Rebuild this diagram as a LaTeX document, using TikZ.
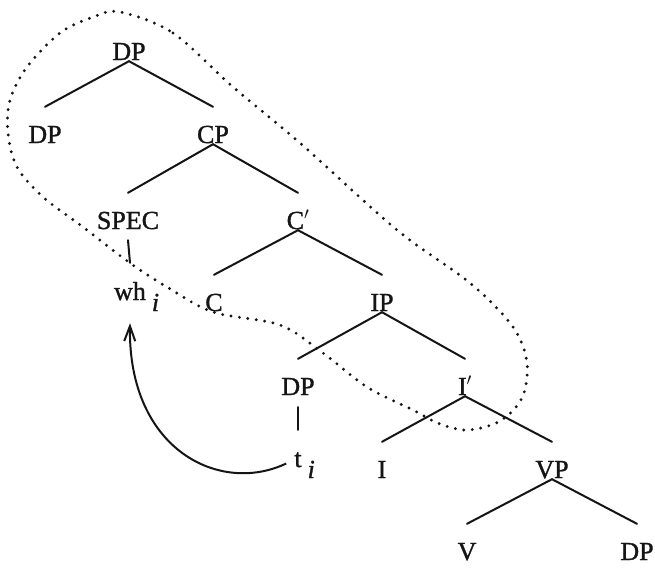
\documentclass[tikz,border=0pt]{standalone}
\usepackage{fontspec}
\setmainfont[FakeBold=1.2]{Liberation Serif}
\usetikzlibrary{arrows.meta}
\definecolor{ink}{HTML}{151515}
\begin{document}
\begin{tikzpicture}[x=1pt,y=-1pt,
  lbl/.style={anchor=base, inner sep=0pt, text height=17pt, text depth=0pt,
              font=\fontsize{26}{30}\selectfont, text=ink},
  br/.style={line width=2pt, draw=ink, line cap=round},
  loop/.style={line width=3.2pt, draw=ink, line cap=round, dash pattern=on 0pt off 8.5pt},
  mv/.style={line width=2pt, draw=ink, -{Straight Barb[length=15pt,width=11pt,line width=2pt]}}
]
\useasboundingbox (0,0) rectangle (655,568);
\fill[white] (0,0) rectangle (655,568);

\newcommand{\subi}{\rlap{\hspace{6pt}\raisebox{-11pt}{\itshape i}}}

\node[lbl] (dp1) at (129,60) {DP};
\node[lbl] (dp2) at (45,143) {DP};
\node[lbl] (cp) at (213,143) {CP};
\node[lbl] (spec) at (128,229) {SPEC};
\node[lbl] (cbar) at (298,229) {C$'$};
\node[lbl] (wh) at (130,300) {wh\subi};
\node[lbl] (c) at (214,311) {C};
\node[lbl] (ip) at (382,311) {IP};
\node[lbl] (dp3) at (298,395) {DP};
\node[lbl] (ibar) at (465,395) {I$'$};
\node[lbl] (t) at (298,467) {t\subi};
\node[lbl] (i) at (382,478) {I};
\node[lbl] (vp) at (552,478) {VP};
\node[lbl] (v) at (467,560) {V};
\node[lbl] (dp4) at (637,560) {DP};

\foreach \p/\ch in {dp1/dp2, dp1/cp, cp/spec, cp/cbar, cbar/c, cbar/ip, ip/dp3, ip/ibar, ibar/i, ibar/vp, vp/v, vp/dp4}
  \draw[br] ([yshift=-1pt]\p.south) -- ([yshift=19pt]\ch.north);

\draw[br] ([yshift=-11pt]spec.south) -- ([yshift=20pt]wh.north);
\draw[br] ([yshift=-12pt]dp3.south) -- ([yshift=20pt]t.north);

\draw[mv] ([xshift=-8pt,yshift=-5pt]t.west) .. controls (220,495) and (128,450) .. ([yshift=-23pt]wh.south);

\draw[loop] plot[smooth cycle, tension=0.55] coordinates {
  (120,12) (173,33) (233,87) (300,143) (397,230) (470,283) (513,327) (527,363)
  (522,398) (500,421) (468,430) (440,424) (413,410) (367,387) (323,353)
  (280,325) (213,312) (167,287) (130,263) (83,227) (43,197) (17,167)
  (8,133) (10,100) (27,67) (60,33) (93,17)};
\end{tikzpicture}
\end{document}
